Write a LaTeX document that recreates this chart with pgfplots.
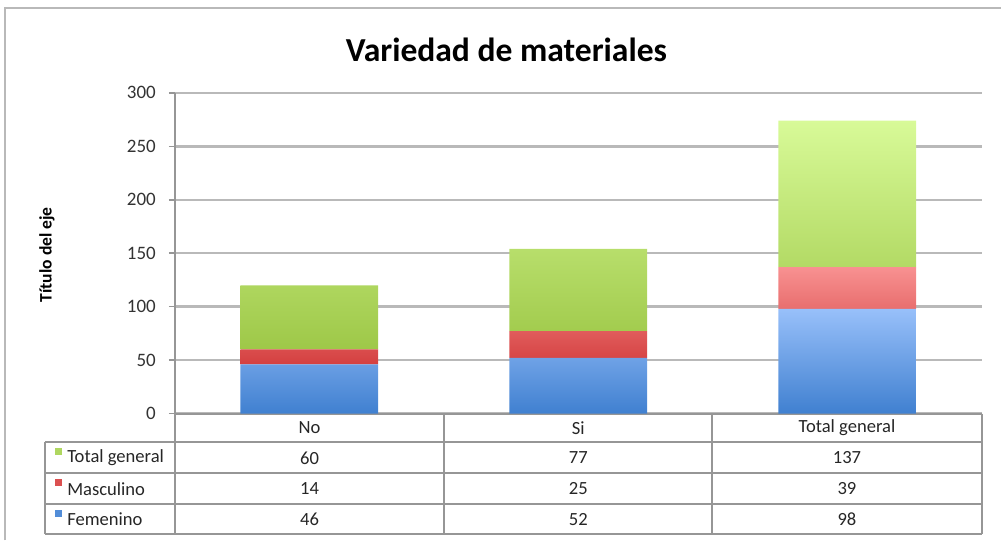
\documentclass[border=0pt]{standalone}
\usepackage{pgfplots}
\pgfplotsset{compat=1.18}
\usepackage{fontspec}
\setmainfont{Carlito}

\definecolor{grtop}{RGB}{216,250,152}
\definecolor{grbot}{RGB}{158,200,72}
\definecolor{rdtop}{RGB}{248,145,145}
\definecolor{rdbot}{RGB}{212,64,64}
\definecolor{bltop}{RGB}{152,192,250}
\definecolor{blbot}{RGB}{64,128,208}
\definecolor{gridc}{RGB}{185,185,185}
\definecolor{tabc}{RGB}{150,150,150}

\begin{document}
\begin{tikzpicture}
% page size
\path (-87.5pt,-63.5pt) rectangle (413.5pt,207pt);
% outer frame (left and top)
\draw[gridc, line width=1.2pt] (-85pt,-63.5pt) -- (-85pt,203pt) -- (413.5pt,203pt);

\begin{axis}[
    scale only axis,
    width=404pt, height=160.5pt,
    ybar stacked, bar width=69pt,
    ymin=0, ymax=300, ytick={0,50,...,300},
    xmin=-0.5, xmax=2.5,
    xtick=\empty,
    axis x line*=bottom, axis y line*=left,
    x axis line style={draw=tabc, line width=1pt},
    y axis line style={draw=tabc, line width=1pt},
    ymajorgrids,
    grid style={gridc, line width=1.2pt},
    y tick style={tabc, line width=0.8pt},
    major tick length=3pt,
    tick align=outside,
    yticklabel style={font=\fontsize{9.5}{11}\selectfont, text=black!80, xshift=-3pt},
    /pgf/number format/assume math mode=true,
    clip=false,
]
\addplot[draw=none, top color=bltop, bottom color=blbot] coordinates {(0,46) (1,52) (2,98)};
\addplot[draw=none, top color=rdtop, bottom color=rdbot] coordinates {(0,14) (1,25) (2,39)};
\addplot[draw=none, top color=grtop, bottom color=grbot] coordinates {(0,60) (1,77) (2,137)};
\end{axis}

% title and axis label
\node[font=\fontsize{16.8}{20}\selectfont\bfseries] at (166pt,182pt) {Variedad de materiales};
\node[font=\fontsize{8.8}{10}\selectfont\bfseries, rotate=90] at (-64pt,79.5pt) {Título del eje};

% data table
\begin{scope}[tabc, line width=1pt]
\draw (0pt,0pt) -- (0pt,-60.5pt);
\draw (135pt,0pt) -- (135pt,-60.5pt);
\draw (269pt,0pt) -- (269pt,-60.5pt);
\draw (404pt,0pt) -- (404pt,-60.5pt);
\draw (-65pt,-14.5pt) -- (-65pt,-60.5pt);
\foreach \yy in {-14.5,-30,-45.5,-60.5} \draw (-65pt,\yy pt) -- (404pt,\yy pt);
\end{scope}
\begin{scope}[every node/.style={font=\fontsize{9.3}{10}\selectfont, text=black!85}]
\node at (67.5pt,-7.25pt) {No};
\node at (202pt,-7.25pt) {Si};
\node at (336.5pt,-7.25pt) {Total general};
\node at (67.5pt,-22.25pt) {60};
\node at (202pt,-22.25pt) {77};
\node at (336.5pt,-22.25pt) {137};
\node at (67.5pt,-37.75pt) {14};
\node at (202pt,-37.75pt) {25};
\node at (336.5pt,-37.75pt) {39};
\node at (67.5pt,-53pt) {46};
\node at (202pt,-53pt) {52};
\node at (336.5pt,-53pt) {98};
\node[anchor=west, inner sep=0pt] at (-54pt,-22.25pt) {Total general};
\node[anchor=west, inner sep=0pt] at (-54pt,-37.75pt) {Masculino};
\node[anchor=west, inner sep=0pt] at (-54pt,-53pt) {Femenino};
\end{scope}
\fill[grbot!70!grtop] (-60pt,-21pt) rectangle (-56.5pt,-17.5pt);
\fill[rdbot!80!rdtop] (-60pt,-36.5pt) rectangle (-56.5pt,-33pt);
\fill[blbot!80!bltop] (-60pt,-51.8pt) rectangle (-56.5pt,-48.3pt);
\end{tikzpicture}
\end{document}
